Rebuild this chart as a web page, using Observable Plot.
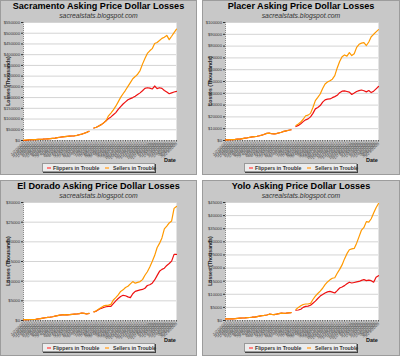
<!DOCTYPE html>
<html><head><meta charset="utf-8">
<script src="https://cdn.jsdelivr.net/npm/d3@7"></script>
<script src="https://cdn.jsdelivr.net/npm/@observablehq/plot@0.6"></script>
<style>
body{margin:0;background:#fff;width:400px;height:356px;position:relative;overflow:hidden;font-family:"Liberation Sans",Arial,Helvetica,sans-serif}
.panel{position:absolute;background:#c8c8c8;box-shadow:inset 0 0 0 1px #9c9c9c;overflow:hidden}
.panel svg{position:absolute;left:0;top:0}
.title{position:absolute;left:0;right:0;top:1px;text-align:center;font-weight:bold;font-size:9.1px;line-height:11px;color:#000;white-space:nowrap}
.sub{position:absolute;left:0;right:0;top:12px;text-align:center;font-style:italic;font-size:6.8px;line-height:8px;color:#333;white-space:nowrap}
.ylab{position:absolute;left:8px;top:81px;transform:translate(-50%,-50%) rotate(-90deg);font-size:5.1px;font-weight:bold;color:#222;white-space:nowrap}
.date{position:absolute;left:164px;top:157px;font-size:5.5px;font-weight:bold;color:#111}
.legend{position:absolute;left:42px;top:163px;width:113px;height:9px;background:#ececec;border:1px solid #999;box-shadow:1px 1px 0 #444;box-sizing:border-box;font-size:5.2px;font-weight:bold;color:#333;white-space:nowrap}
.legend .sw{position:absolute;top:3px;width:4px;height:2px}
.legend .tx{position:absolute;top:0px;line-height:8px}
</style>
</head><body>
<script>
const dates = ["1/7/2007","1/14/2007","1/21/2007","1/28/2007","2/4/2007","2/11/2007","2/18/2007","2/25/2007","3/4/2007","3/11/2007","3/18/2007","3/25/2007","4/1/2007","4/8/2007","4/15/2007","4/22/2007","4/29/2007","5/6/2007","5/13/2007","5/20/2007","5/27/2007","6/3/2007","6/10/2007","6/17/2007","6/24/2007","7/1/2007","7/8/2007","7/15/2007","7/22/2007","7/29/2007","8/5/2007","8/12/2007","8/19/2007","8/26/2007","9/2/2007","9/9/2007","9/16/2007","9/23/2007","9/30/2007","10/7/2007","10/14/2007","10/21/2007","10/28/2007","11/4/2007","11/11/2007","11/18/2007","11/25/2007","12/2/2007","12/9/2007","12/16/2007","12/23/2007","12/30/2007","1/6/2008","1/13/2008","1/20/2008","1/27/2008","2/3/2008","2/10/2008","2/17/2008","2/24/2008","3/2/2008","3/9/2008","3/16/2008","3/23/2008"];

const sacSellers = [2000,2500,3000,3500,4000,4500,5000,5500,6000,7000,8000,9000,10000,11000,13000,15000,17000,18000,19000,20000,21000,22000,24000,27000,30000,34000,38000,43000,null,58000,62000,68000,74000,82000,92000,115000,128000,143000,160000,180000,201000,218000,234000,252000,270000,288000,298000,309000,326000,356000,382000,406000,418000,428000,452000,457000,466000,476000,481000,490000,470000,486000,503000,519000];
const sacFlippers = [0,0,3000,3500,4000,4500,5000,5500,6000,7000,8000,9000,10000,11000,13000,15000,17000,18000,19000,20000,21000,22000,24000,27000,30000,34000,38000,43000,null,58000,62000,68000,74000,82000,92000,102000,110000,120000,130000,145000,158000,170000,180000,190000,195000,200000,206000,214000,222000,232000,243000,246000,244000,240000,254000,242000,246000,243000,233000,226000,218000,222000,226000,229000];

const placerSellers = [500,600,700,800,900,1100,1200,1600,2000,2300,2700,3000,3300,3600,4000,4500,5300,6000,6200,5700,5600,5900,6400,7000,7700,8200,8700,9100,null,12700,14000,15600,18000,21000,21500,23000,28000,33800,36500,39400,44000,47900,49500,50700,52000,55000,61500,67000,71000,72500,71500,74500,72000,73500,78900,81500,82500,83000,80500,83500,87900,90000,92000,94000];
const placerFlippers = [500,600,700,800,900,1100,1200,1600,2000,2300,2700,3000,3300,3600,4000,4500,5300,6000,6200,5700,5600,5900,6400,7000,7700,8200,8700,9100,null,11800,12800,14200,16000,17500,18300,20000,23000,26800,28000,29600,32500,34400,35000,35200,36300,37200,38300,40500,41800,42000,41500,41000,39000,40200,41500,42300,42800,42200,41200,42300,40600,41800,43800,45800];

const eldSellers = [200,200,200,250,250,300,400,500,600,700,800,850,950,1100,1250,1350,1450,1500,1450,1500,1550,1600,1650,1750,1900,1800,1650,1800,null,2200,2500,2900,3300,3700,3850,3900,4100,5200,5800,6500,7400,7800,8400,8700,9300,9900,9500,9700,9900,10400,11500,12400,13600,15000,16500,18500,19600,21000,23300,24000,24800,25300,28500,29000];
const eldFlippers = [200,200,200,250,250,300,400,500,600,700,800,850,950,1100,1250,1350,1450,1500,1450,1500,1550,1600,1650,1750,1900,1800,1650,1800,null,2200,2400,2800,3100,3300,3500,3600,3600,4300,5000,5600,6100,6400,6300,6000,5800,6800,7400,7600,7800,7900,8200,8900,9100,9500,10300,11400,12500,13000,13300,14000,14500,15100,16800,16800];

const yoloSellers = [600,600,650,650,700,800,900,950,1000,1100,1150,1250,1300,1500,1700,1850,1950,2100,2400,2300,2250,2400,2600,2800,2750,2800,2900,3000,null,4200,5000,5600,6100,6300,6300,6500,8000,9300,10300,11200,12300,13700,14700,15500,16100,16300,18000,19500,21200,23500,25500,27000,27300,27500,29500,32000,34500,35500,37700,37500,38800,41000,43000,44600];
const yoloFlippers = [600,600,650,650,700,800,900,950,1000,1100,1150,1250,1300,1500,1700,1850,1950,2100,2400,2300,2250,2400,2600,2800,2750,2800,2900,3000,null,3900,4000,4300,5000,5400,5500,5800,6600,7400,8400,9300,9900,10500,10900,11100,10800,10500,11400,12400,12800,13300,14000,14600,14300,14500,14700,14900,15300,15600,15200,15400,15200,14600,16500,17100];

const sacTicks = [0,50000,100000,150000,200000,250000,300000,350000,400000,450000,500000,550000];
const placerTicks = [0,10000,20000,30000,40000,50000,60000,70000,80000,90000,100000];
const eldTicks = [0,5000,10000,15000,20000,25000,30000];
const yoloTicks = [0,5000,10000,15000,20000,25000,30000,35000,40000,45000];

const titles = ["Sacramento Asking Price Dollar Losses","Placer Asking Price Dollar Losses","El Dorado Asking Price Dollar Losses","Yolo Asking Price Dollar Losses"];
const subtitle = "sacrealstats.blogspot.com";
const seriesNames = ["Flippers in Trouble","Sellers in Trouble"];
const colors = ["#ee1111","#ff9900"];

const panels = [
  {left:0, top:0, w:197, h:175, s:sacSellers, f:sacFlippers, ticks:sacTicks, title:titles[0]},
  {left:202, top:0, w:198, h:175, s:placerSellers, f:placerFlippers, ticks:placerTicks, title:titles[1]},
  {left:0, top:180, w:197, h:176, s:eldSellers, f:eldFlippers, ticks:eldTicks, title:titles[2]},
  {left:202, top:180, w:198, h:176, s:yoloSellers, f:yoloFlippers, ticks:yoloTicks, title:titles[3]}
];

for (const p of panels) {
  const div = document.createElement("div");
  div.className = "panel";
  div.style.left = p.left + "px"; div.style.top = p.top + "px";
  div.style.width = p.w + "px"; div.style.height = p.h + "px";
  document.body.appendChild(div);

  const rows = dates.map((d, i) => ({date: d, sellers: p.s[i], flippers: p.f[i]}));
  const chart = Plot.plot({
    width: p.w, height: p.h,
    marginLeft: 23, marginRight: p.w - 176, marginTop: 22, marginBottom: p.h - 140,
    style: {background: "transparent", overflow: "visible", fontFamily: "Liberation Sans, Arial, sans-serif"},
    x: {type: "point", domain: dates, padding: 0, round: false},
    y: {domain: [0, p.ticks[p.ticks.length - 1]]},
    marks: [
      Plot.frame({fill: "white", stroke: "none"}),
      Plot.gridY(p.ticks, {stroke: "#d4d4d4", strokeOpacity: 1}),
      Plot.axisY({ticks: p.ticks, tickFormat: d => "$" + d, fontSize: 4.2, tickSize: 2, tickPadding: 1.5, label: null, color: "#333"}),
      Plot.axisX({tickRotate: -45, fontSize: 4.4, tickSize: 1.5, tickPadding: 1, label: null, color: "#555"}),
      Plot.ruleX([dates[0]], {stroke: "#888", strokeDasharray: "1,1"}),
      Plot.line(rows, {x: "date", y: "flippers", stroke: colors[0], strokeWidth: 1.2}),
      Plot.line(rows, {x: "date", y: "sellers", stroke: colors[1], strokeWidth: 1.2})
    ]
  });
  div.appendChild(chart);

  const t = document.createElement("div"); t.className = "title"; t.textContent = p.title; div.appendChild(t);
  const s = document.createElement("div"); s.className = "sub"; s.textContent = subtitle; div.appendChild(s);
  const y = document.createElement("div"); y.className = "ylab"; y.textContent = "Losses (Thousands)"; div.appendChild(y);
  const dl = document.createElement("div"); dl.className = "date"; dl.textContent = "Date"; div.appendChild(dl);
  const lg = document.createElement("div"); lg.className = "legend";
  lg.innerHTML = `<div class="sw" style="left:4px;background:#ff8080"></div><div class="tx" style="left:10px">${seriesNames[0]}</div><div class="sw" style="left:62px;background:#ffbb66"></div><div class="tx" style="left:70px">${seriesNames[1]}</div>`;
  div.appendChild(lg);
}
</script>
</body></html>
